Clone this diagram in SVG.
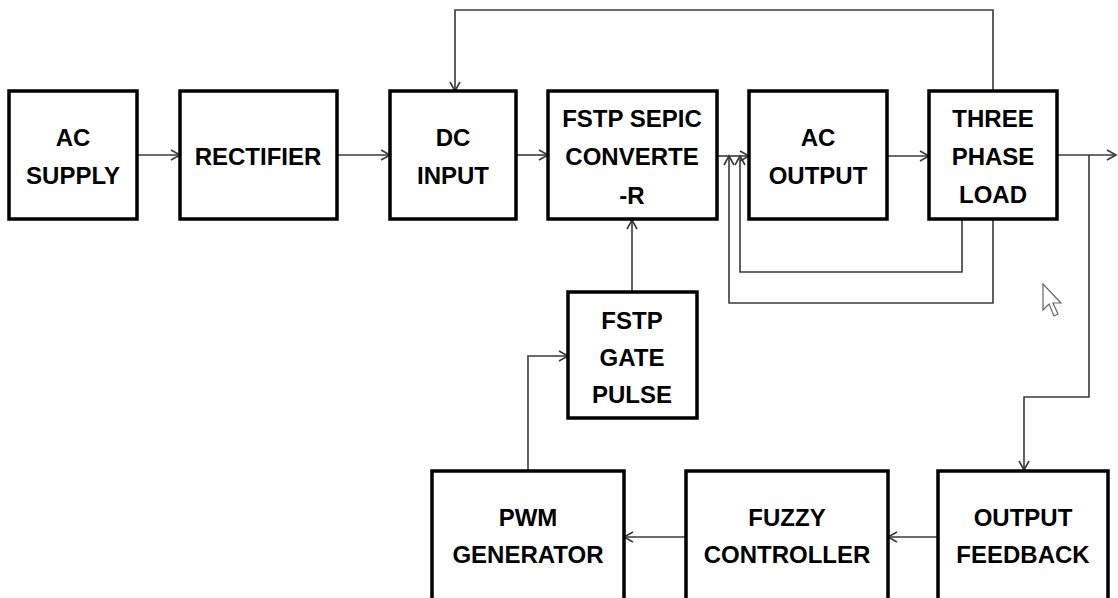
<svg xmlns="http://www.w3.org/2000/svg" width="1118" height="598" viewBox="0 0 1118 598">
<style>
.box{fill:#fff;stroke:#000;stroke-width:3.5}
.lbl{font-family:"Liberation Sans",Arial,sans-serif;font-weight:bold;font-size:24px;fill:#000;text-anchor:middle}
.c{fill:none;stroke:#3a3a3a;stroke-width:1.6}
</style>
<defs>
<marker id="a" markerUnits="userSpaceOnUse" markerWidth="12" markerHeight="12" refX="10" refY="6" orient="auto">
<path d="M1,1 L10,6 L1,11" fill="none" stroke="#3a3a3a" stroke-width="1.6"/>
</marker>
</defs>
<rect width="1118" height="598" fill="#fff"/>
<g id="connectors">
<line class="c" x1="137" y1="155" x2="180" y2="155" marker-end="url(#a)"/>
<line class="c" x1="337" y1="155" x2="390" y2="155" marker-end="url(#a)"/>
<line class="c" x1="516" y1="155" x2="548" y2="155" marker-end="url(#a)"/>
<line class="c" x1="717" y1="156" x2="749" y2="156" marker-end="url(#a)"/>
<line class="c" x1="887" y1="156" x2="929" y2="156" marker-end="url(#a)"/>
<polyline class="c" points="993,91 993,10 455,10 455,91" marker-end="url(#a)"/>
<polyline class="c" points="962,220 962,272 740,272 740,156" marker-end="url(#a)"/>
<polyline class="c" points="993,220 993,303 729,303 729,156" marker-end="url(#a)"/>
<line class="c" x1="1057" y1="155" x2="1116" y2="155" marker-end="url(#a)"/>
<polyline class="c" points="1089,155 1089,397 1024,397 1024,470" marker-end="url(#a)"/>
<line class="c" x1="632" y1="292" x2="632" y2="220" marker-end="url(#a)"/>
<polyline class="c" points="528,470 528,356 568,356" marker-end="url(#a)"/>
<line class="c" x1="938" y1="537" x2="888" y2="537" marker-end="url(#a)"/>
<line class="c" x1="686" y1="537" x2="624" y2="537" marker-end="url(#a)"/>
</g>
<g id="ac-supply"><rect class="box" x="9" y="91" width="128" height="128"/><text class="lbl" x="73" y="146">AC</text><text class="lbl" x="73" y="184">SUPPLY</text></g>
<g id="rectifier"><rect class="box" x="180" y="91" width="157" height="128"/><text class="lbl" x="258" y="165">RECTIFIER</text></g>
<g id="dc-input"><rect class="box" x="390" y="91" width="126" height="128"/><text class="lbl" x="453" y="146">DC</text><text class="lbl" x="453" y="184">INPUT</text></g>
<g id="sepic"><rect class="box" x="548" y="91" width="169" height="128"/><text class="lbl" x="632" y="127">FSTP SEPIC</text><text class="lbl" x="632" y="165">CONVERTE</text><text class="lbl" x="632" y="204">-R</text></g>
<g id="ac-output"><rect class="box" x="749" y="91" width="138" height="128"/><text class="lbl" x="818" y="146">AC</text><text class="lbl" x="818" y="184">OUTPUT</text></g>
<g id="three-phase-load"><rect class="box" x="929" y="91" width="128" height="128"/><text class="lbl" x="993" y="127">THREE</text><text class="lbl" x="993" y="165">PHASE</text><text class="lbl" x="993" y="203">LOAD</text></g>
<g id="gate-pulse"><rect class="box" x="568" y="292" width="129" height="126"/><text class="lbl" x="632" y="329">FSTP</text><text class="lbl" x="632" y="366">GATE</text><text class="lbl" x="632" y="403">PULSE</text></g>
<g id="pwm"><rect class="box" x="432" y="471" width="192" height="132"/><text class="lbl" x="528" y="526">PWM</text><text class="lbl" x="528" y="563">GENERATOR</text></g>
<g id="fuzzy"><rect class="box" x="686" y="471" width="202" height="132"/><text class="lbl" x="787" y="526">FUZZY</text><text class="lbl" x="787" y="563">CONTROLLER</text></g>
<g id="output-feedback"><rect class="box" x="938" y="471" width="170" height="132"/><text class="lbl" x="1023" y="526">OUTPUT</text><text class="lbl" x="1023" y="563">FEEDBACK</text></g>
<polygon points="1043,284 1043,310 1049,304 1054,316 1058,314 1053,303 1061,303" fill="#fff" stroke="#666" stroke-width="1.2"/>
</svg>
